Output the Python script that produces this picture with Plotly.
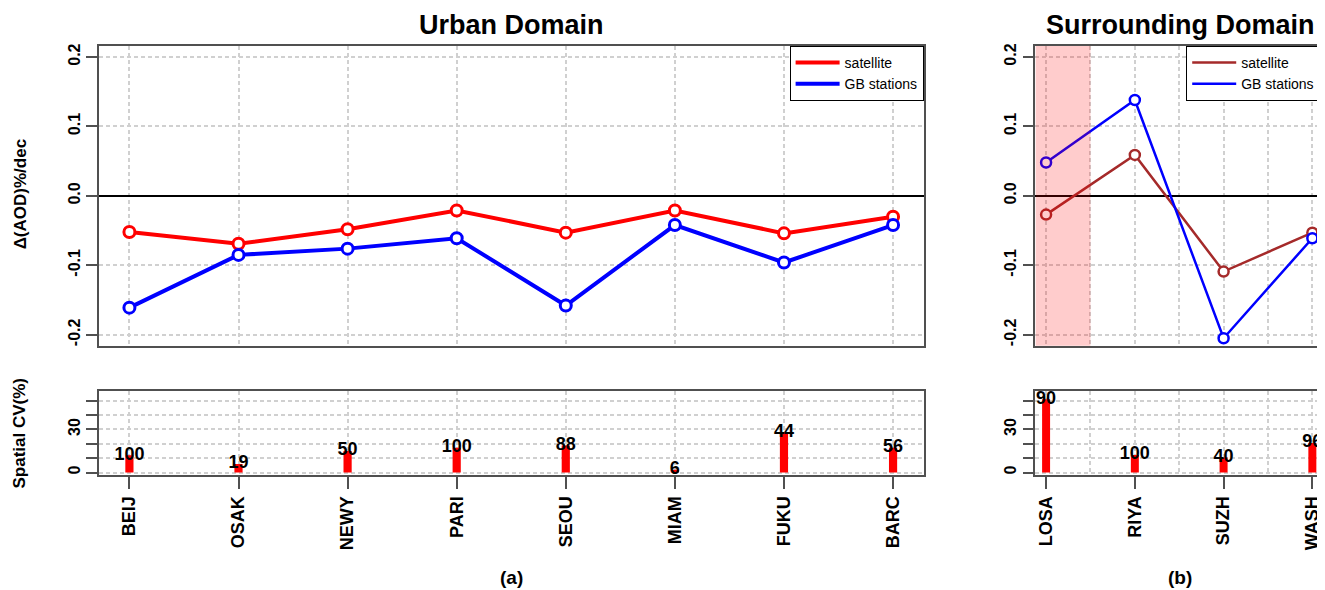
import plotly.graph_objects as go

FONT = "Liberation Sans, Arial, sans-serif"
# the page body adds an 8px margin, so the figure is drawn 8px smaller and offset
OFF = 8
W, H = 1325 - OFF, 590 - OFF

urban_sites = ["BEIJ", "OSAK", "NEWY", "PARI", "SEOU", "MIAM", "FUKU", "BARC"]
urban_sat = [-0.052, -0.069, -0.048, -0.021, -0.053, -0.021, -0.054, -0.030]
urban_gb = [-0.161, -0.085, -0.076, -0.061, -0.158, -0.042, -0.096, -0.042]
urban_cv = [12, 6, 15, 17.2, 18.8, 2, 28.2, 17.2]
urban_n = [100, 19, 50, 100, 88, 6, 44, 56]

surr_sites = ["LOSA", "RIYA", "SUZH", "WASH"]
surr_sat = [-0.027, 0.059, -0.109, -0.053]
surr_gb = [0.048, 0.138, -0.205, -0.061]
surr_cv = [51, 12.2, 10.5, 20.6]
surr_n = [90, 100, 40, 96]

trend_ticks = [-0.2, -0.1, 0.0, 0.1, 0.2]
trend_labels = ["-0.2", "-0.1", "0.0", "0.1", "0.2"]
cv_ticks = [0, 10, 20, 30, 40, 50]
cv_labels = ["0", "", "", "30", "", ""]

GRID = "#D0D0D0"
BOX = "#505050"


def px_x(p):
    return (p - OFF) / W


def px_y(p):
    return 1 - (p - OFF) / H


def r_range(n):
    pad = 0.04 * (n - 1)
    return [1 - pad, n + pad]


left_dom = [px_x(99), px_x(925)]
right_dom = [px_x(1037), 1.0]
top_dom = [px_y(345), px_y(44)]
bot_dom = [px_y(475), px_y(390)]

fig = go.Figure()

ux = list(range(1, len(urban_sites) + 1))
sx = list(range(1, len(surr_sites) + 1))

# urban trends
for vals, col, name in [(urban_sat, "#FF0000", "satellite"), (urban_gb, "#0000FF", "GB stations")]:
    fig.add_trace(go.Scatter(x=ux, y=vals, mode="lines", name=name, line=dict(color=col, width=4),
                             xaxis="x", yaxis="y", legend="legend"))
    fig.add_trace(go.Scatter(x=ux, y=vals, mode="markers", showlegend=False,
                             marker=dict(size=11, color="white", line=dict(color=col, width=3)),
                             xaxis="x", yaxis="y"))

# surrounding trends
for vals, col, name in [(surr_sat, "#A52A2A", "satellite"), (surr_gb, "#0000FF", "GB stations")]:
    fig.add_trace(go.Scatter(x=sx, y=vals, mode="lines", name=name, line=dict(color=col, width=2.5),
                             xaxis="x3", yaxis="y3", legend="legend2"))
    fig.add_trace(go.Scatter(x=sx, y=vals, mode="markers", showlegend=False,
                             marker=dict(size=10, color="white", line=dict(color=col, width=2.5)),
                             xaxis="x3", yaxis="y3"))

# spatial CV bars
fig.add_trace(go.Bar(x=ux, y=urban_cv, width=0.075, marker=dict(color="#FF0000", line_width=0),
                     showlegend=False, xaxis="x2", yaxis="y2"))
fig.add_trace(go.Scatter(x=ux, y=urban_cv, mode="text", text=[str(v) for v in urban_n],
                         textfont=dict(size=18, color="black", weight="bold"), showlegend=False,
                         cliponaxis=False, xaxis="x2", yaxis="y2"))
fig.add_trace(go.Bar(x=sx, y=surr_cv, width=0.09, marker=dict(color="#FF0000", line_width=0),
                     showlegend=False, xaxis="x4", yaxis="y4"))
fig.add_trace(go.Scatter(x=sx, y=surr_cv, mode="text", text=[str(v) for v in surr_n],
                         textfont=dict(size=18, color="black", weight="bold"), showlegend=False,
                         cliponaxis=False, xaxis="x4", yaxis="y4"))

axis_common = dict(showline=True, mirror=True, linecolor=BOX, linewidth=1.5,
                   showgrid=True, gridcolor=GRID, gridwidth=1.5, griddash="4px,3px",
                   zeroline=False, fixedrange=True)
tickfont = dict(family=FONT, size=16, color="black", weight="bold")
zero = {"zeroline": True, "zerolinecolor": "black", "zerolinewidth": 2}
half_grid = dict(tickvals=[1.5, 2.5, 3.5], showgrid=True, gridcolor=GRID,
                 gridwidth=1.5, griddash="4px,3px", ticks="")

fig.update_layout(
    width=W, height=H,
    margin=dict(l=0, r=0, t=0, b=0),
    paper_bgcolor="white", plot_bgcolor="white",
    font=dict(family=FONT, color="black"),
    barmode="overlay",
    xaxis=dict(domain=left_dom, range=r_range(len(urban_sites)), anchor="y",
               tickvals=ux, showticklabels=False, ticks="", **axis_common),
    yaxis=dict(domain=top_dom, range=[-0.216, 0.216], anchor="x",
               tickvals=trend_ticks, ticktext=trend_labels, ticks="outside", ticklen=11,
               tickwidth=1.5, tickcolor=BOX, tickangle=-90, tickfont=tickfont,
               **{**axis_common, **zero}),
    xaxis2=dict(domain=left_dom, range=r_range(len(urban_sites)), anchor="y2",
                tickvals=ux, ticktext=urban_sites, ticks="outside", ticklen=12, tickwidth=1.5,
                tickcolor=BOX, tickangle=-90, tickfont=dict(tickfont, size=18), **axis_common),
    yaxis2=dict(domain=bot_dom, range=[-2, 57], anchor="x2",
                tickvals=cv_ticks, ticktext=cv_labels, ticks="outside", ticklen=11,
                tickwidth=1.5, tickcolor=BOX, tickangle=-90, tickfont=tickfont, **axis_common),
    xaxis3=dict(domain=right_dom, range=r_range(len(surr_sites)), anchor="y3",
                tickvals=sx, showticklabels=False, ticks="", minor=half_grid, **axis_common),
    yaxis3=dict(domain=top_dom, range=[-0.216, 0.216], anchor="x3",
                tickvals=trend_ticks, ticktext=trend_labels, ticks="outside", ticklen=11,
                tickwidth=1.5, tickcolor=BOX, tickangle=-90, tickfont=tickfont,
                **{**axis_common, **zero}),
    xaxis4=dict(domain=right_dom, range=r_range(len(surr_sites)), anchor="y4",
                tickvals=sx, ticktext=surr_sites, ticks="outside", ticklen=12, tickwidth=1.5,
                tickcolor=BOX, tickangle=-90, tickfont=dict(tickfont, size=18),
                minor=half_grid, **axis_common),
    yaxis4=dict(domain=bot_dom, range=[-2, 57], anchor="x4",
                tickvals=cv_ticks, ticktext=cv_labels, ticks="outside", ticklen=11,
                tickwidth=1.5, tickcolor=BOX, tickangle=-90, tickfont=tickfont, **axis_common),
    legend=dict(x=left_dom[1], y=top_dom[1], xanchor="right", yanchor="top",
                bgcolor="white", bordercolor="black", borderwidth=1, itemwidth=44,
                font=dict(family=FONT, size=14), tracegroupgap=0),
    legend2=dict(x=px_x(1188), y=top_dom[1], xanchor="left", yanchor="top",
                 bgcolor="white", bordercolor="black", borderwidth=1, itemwidth=44,
                 font=dict(family=FONT, size=14), tracegroupgap=0),
)

# shaded LOSA column, drawn over the data like a translucent overlay
fig.add_shape(type="rect", xref="x3", yref="y3 domain",
              x0=r_range(len(surr_sites))[0], x1=1.5, y0=0, y1=1,
              fillcolor="rgba(255,0,0,0.2)", line_width=0, layer="above")

titles = [
    ("Urban Domain", (99 + 925) / 2, 23, 27, 0),
    ("Surrounding Domain", (1037 + 1326) / 2, 23, 27, 0),
    ("(a)", 512, 577, 19, 0),
    ("(b)", 1182, 577, 19, 0),
    ("\u0394(AOD)%/dec", 20, 193, 17, -90),
    ("Spatial CV(%)", 20, 432, 17, -90),
]
for text, x, y, size, ang in titles:
    fig.add_annotation(text=text, x=px_x(x), y=px_y(y), xref="paper", yref="paper",
                       xanchor="center", yanchor="middle", showarrow=False, textangle=ang,
                       font=dict(family=FONT, size=size, color="black", weight="bold"))

fig.write_html("out.html")
